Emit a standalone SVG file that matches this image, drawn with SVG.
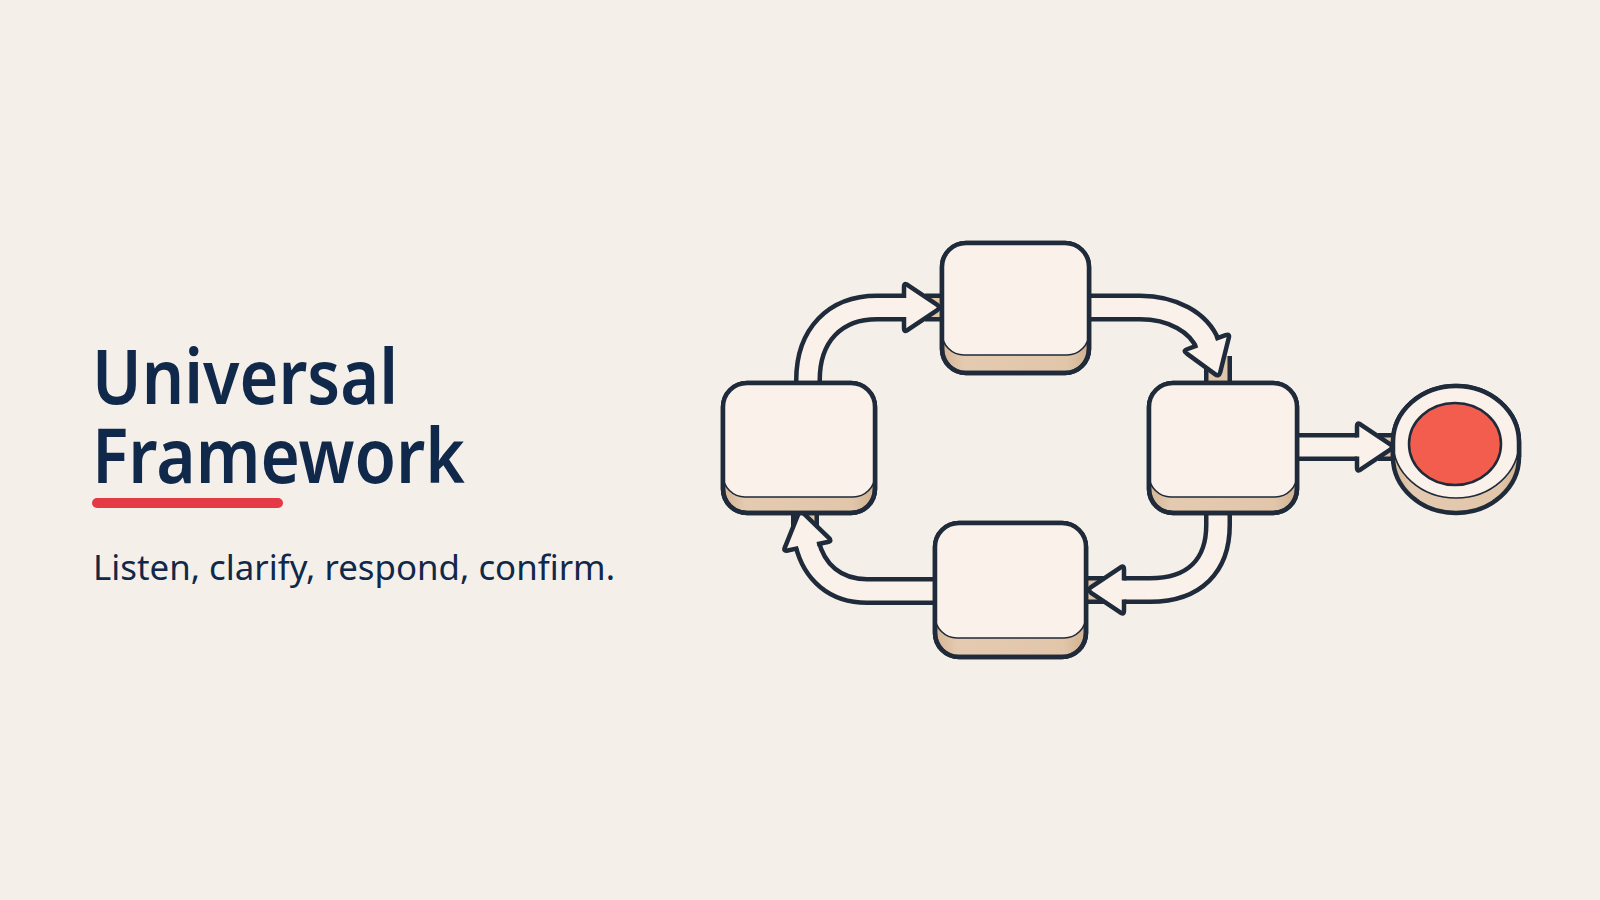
<svg xmlns="http://www.w3.org/2000/svg" width="1600" height="900" viewBox="0 0 1600 900">
  <defs>
    <linearGradient id="side" x1="0" y1="0" x2="1" y2="0">
      <stop offset="0" stop-color="#d5b696"/>
      <stop offset="0.15" stop-color="#e4cab0"/>
      <stop offset="0.85" stop-color="#e1c6aa"/>
      <stop offset="1" stop-color="#d1b08f"/>
    </linearGradient>
    <path id="arrowhead" d="M-37 9.5 L-37 20.5 Q-37 25.5 -32.9 22.2 L-4.1 2.8 Q0 0 -4.1 -2.8 L-32.9 -22.2 Q-37 -25.5 -37 -20.5 L-37 -9.5"/>
  </defs>
  <style>
    .bg { fill: #f4f0e9; }
    .title { font-family: "Noto Sans", "Open Sans", sans-serif; font-weight: 600; font-size: 76px; fill: #10284a; }
    .sub { font-family: "Noto Sans", "Open Sans", sans-serif; font-weight: 400; font-size: 35px; fill: #10284a; }
    .shell { fill: url(#side); stroke: #1f2a3a; stroke-width: 4.5; stroke-linejoin: round; }
    .face { fill: #faf1ea; stroke: #1f2a3a; stroke-width: 1.6; }
    .rim { fill: none; stroke: #1f2a3a; stroke-width: 4.5; stroke-linejoin: round; }
    .ribbon-o { fill: none; stroke: #1f2a3a; stroke-width: 28; stroke-linecap: butt; stroke-linejoin: round; }
    .ribbon-i { fill: none; stroke: #faf1ea; stroke-width: 19; stroke-linecap: butt; stroke-linejoin: round; }
    .stub-i { fill: none; stroke: #e1c6aa; stroke-width: 19; stroke-linecap: butt; }
    .head { fill: #faf1ea; stroke: #1f2a3a; stroke-width: 4.5; stroke-linejoin: round; stroke-linecap: butt; }
  </style>
  <rect class="bg" x="0" y="0" width="1600" height="900"/>

  <g id="title">
    <text class="title"><tspan x="92" y="404" textLength="306" lengthAdjust="spacingAndGlyphs">Universal</tspan><tspan x="92" y="483" textLength="373" lengthAdjust="spacingAndGlyphs">Framework</tspan></text>
    <rect x="92" y="498" width="191" height="10" rx="5" fill="#e63946"/>
    <text class="sub" x="93" y="580" textLength="522" lengthAdjust="spacingAndGlyphs">Listen, clarify, respond, confirm.</text>
  </g>

  <g id="connectors">
    <!-- left -> top -->
    <g id="c1">
      <path class="ribbon-o" d="M925 307.5 L946 307.5"/>
      <path class="stub-i" d="M925 307.5 L946 307.5"/>
      <path class="ribbon-o" d="M808 386 L808 380 C808 335 835 307.5 877 307.5 L905 307.5"/>
      <path class="ribbon-i" d="M808 386 L808 380 C808 335 835 307.5 877 307.5 L905 307.5"/>
      <use href="#arrowhead" class="head" transform="translate(941 307.5)"/>
    </g>
    <!-- top -> right -->
    <g id="c2">
      <path class="ribbon-o" d="M1218 356 L1218 386"/>
      <path class="stub-i" d="M1218 356 L1218 386"/>
      <path class="ribbon-o" d="M1086 307.5 L1140 307.5 C1172 307.5 1199 322 1208 345"/>
      <path class="ribbon-i" d="M1086 307.5 L1140 307.5 C1172 307.5 1199 322 1208 345"/>
      <use href="#arrowhead" class="head" transform="translate(1219 377) rotate(70)"/>
    </g>
    <!-- right -> bottom -->
    <g id="c3">
      <path class="ribbon-o" d="M1110 590 L1083 590"/>
      <path class="stub-i" d="M1110 590 L1083 590"/>
      <path class="ribbon-o" d="M1218 510 L1218 525 C1218 565 1195 590 1150 590 L1123 590"/>
      <path class="ribbon-i" d="M1218 510 L1218 525 C1218 565 1195 590 1150 590 L1123 590"/>
      <use href="#arrowhead" class="head" transform="translate(1087 590) rotate(180)"/>
    </g>
    <!-- bottom -> left -->
    <g id="c4">
      <path class="ribbon-o" d="M805 532 L805 510"/>
      <path class="stub-i" d="M805 532 L805 510"/>
      <path class="ribbon-o" d="M938 591 L867 591 C835 591 814 572 807 543"/>
      <path class="ribbon-i" d="M938 591 L867 591 C835 591 814 572 807 543"/>
      <use href="#arrowhead" class="head" transform="translate(800 510) rotate(-102)"/>
    </g>
    <!-- right -> end -->
    <g id="c5">
      <path class="ribbon-o" d="M1378 447 L1398 447"/>
      <path class="stub-i" d="M1378 447 L1398 447"/>
      <path class="ribbon-o" d="M1294 447 L1358 447"/>
      <path class="ribbon-i" d="M1294 447 L1358 447"/>
      <use href="#arrowhead" class="head" transform="translate(1394 447)"/>
    </g>
  </g>

  <g id="node-top">
    <rect class="shell" x="942" y="243" width="147" height="130" rx="24"/>
    <rect class="face" x="942" y="243" width="147" height="112" rx="22"/>
    <rect class="rim" x="942" y="243" width="147" height="130" rx="24"/>
  </g>
  <g id="node-left">
    <rect class="shell" x="723" y="383" width="152" height="130" rx="24"/>
    <rect class="face" x="723" y="383" width="152" height="114" rx="22"/>
    <rect class="rim" x="723" y="383" width="152" height="130" rx="24"/>
  </g>
  <g id="node-right">
    <rect class="shell" x="1149" y="383" width="148" height="130" rx="24"/>
    <rect class="face" x="1149" y="383" width="148" height="114" rx="22"/>
    <rect class="rim" x="1149" y="383" width="148" height="130" rx="24"/>
  </g>
  <g id="node-bottom">
    <rect class="shell" x="935" y="523" width="151" height="134" rx="24"/>
    <rect class="face" x="935" y="523" width="151" height="115" rx="22"/>
    <rect class="rim" x="935" y="523" width="151" height="134" rx="24"/>
  </g>
  <g id="node-end">
    <path class="shell" d="M1393 442 A63 56 0 0 1 1519 442 L1519 457 A63 56 0 0 1 1393 457 Z"/>
    <ellipse class="face" cx="1456" cy="442" rx="63" ry="56"/>
    <path class="rim" d="M1393 457 L1393 442 A63 56 0 0 1 1519 442 L1519 457"/>
    <ellipse cx="1455" cy="444" rx="46" ry="41" fill="#f35d4d" stroke="#1f2a3a" stroke-width="2.5"/>
  </g>
</svg>
